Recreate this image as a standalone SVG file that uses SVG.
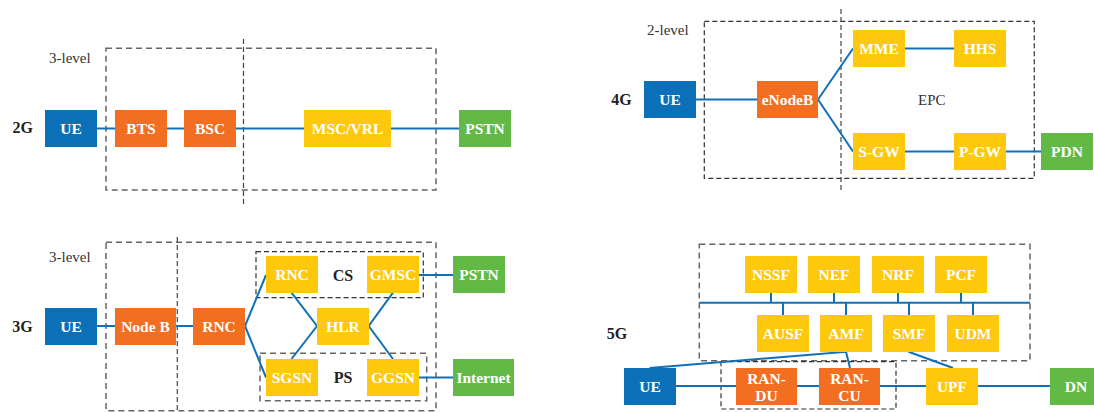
<svg xmlns="http://www.w3.org/2000/svg" width="1094" height="412" viewBox="0 0 1094 412">
  <style>
    .ue { fill: #0B70B8; }
    .ran { fill: #F26F21; }
    .core { fill: #FEC80D; }
    .ext { fill: #62B946; }
    .lbl { font-family: "Liberation Serif", "Times New Roman", serif; font-weight: bold; font-size: 15.5px; fill: #ffffff; text-anchor: middle; }
    .gen { font-family: "Liberation Serif", "Times New Roman", serif; font-weight: bold; font-size: 16px; fill: #222222; text-anchor: middle; }
    .note { font-family: "Liberation Serif", "Times New Roman", serif; font-size: 15px; fill: #333333; }
    .link { stroke: #1170BA; stroke-width: 2; fill: none; }
    .grp { fill: none; stroke: #666666; stroke-width: 1.5; stroke-dasharray: 6 4; }
    .grp-dark { fill: none; stroke: #333333; stroke-width: 1.2; stroke-dasharray: 5 3; }
    .split { stroke: #444444; stroke-width: 1.2; stroke-dasharray: 5 3; }
  </style>

  <!-- ===== Group outlines and split lines ===== -->
  <g id="frames">
    <!-- 2G -->
    <rect class="grp" x="106" y="48.3" width="330" height="141.7"/>
    <line class="split" x1="243.5" y1="39" x2="243.5" y2="205"/>
    <text class="note" x="49" y="63">3-level</text>
    <!-- 4G -->
    <rect class="grp-dark" x="704.3" y="21.3" width="330" height="157"/>
    <line class="split" x1="841" y1="9" x2="841" y2="192"/>
    <text class="note" x="647" y="34.5">2-level</text>
    <text class="note" x="918" y="104.5">EPC</text>
    <!-- 3G -->
    <rect class="grp" x="106" y="242.3" width="330" height="168.4"/>
    <line class="split" x1="177.3" y1="237" x2="177.3" y2="412"/>
    <rect class="grp-dark" x="256" y="251.7" width="167.3" height="46"/>
    <rect class="grp" x="260" y="353.3" width="166.7" height="47.4"/>
    <text class="note" x="49" y="261.5">3-level</text>
    <text class="gen" x="343" y="280.5">CS</text>
    <text class="gen" x="343" y="382.5">PS</text>
    <!-- 5G -->
    <rect class="grp" x="699.3" y="244.3" width="330.7" height="116.4"/>
    <rect class="grp-dark" x="721" y="361.7" width="175" height="47.3"/>
  </g>

  <!-- ===== Generation labels ===== -->
  <g id="generations">
    <text class="gen" x="22.7" y="133">2G</text>
    <text class="gen" x="621.5" y="105">4G</text>
    <text class="gen" x="22.5" y="331.5">3G</text>
    <text class="gen" x="617" y="339">5G</text>
  </g>

  <!-- ===== Connectors ===== -->
  <g id="connectors">
    <!-- 2G chain -->
    <path class="link" d="M97 128.5H115M167 128.5H184M236 128.5H304M391 128.5H459"/>
    <!-- 4G -->
    <path class="link" d="M696 99.5H757M818 99.5L853 48.5M818 99.5L853 151.5M905 48.5H954M905 151.5H954M1006 151.5H1041"/>
    <!-- 3G -->
    <path class="link" d="M97 326H115M176 326H193M245 326L266 275M245 326L266 377.5"/>
    <path class="link" d="M291.5 292.7L317 326L291.5 359M393 292.7L368.7 326L393 359"/>
    <path class="link" d="M418.7 275H453M418.7 377.5H453"/>
    <!-- 5G service bus -->
    <path class="link" d="M699.3 302.7H1030"/>
    <path class="link" d="M771 292.7V302.7M834 292.7V302.7M898 292.7V302.7M961 292.7V302.7"/>
    <path class="link" d="M783 302.7V315M846 302.7V315M909 302.7V315M973 302.7V315"/>
    <!-- 5G user plane and control links -->
    <path class="link" d="M676 386H736M797 386H819M880 386H926M978 386H1050"/>
    <path class="link" d="M649.5 368L846 351.7L850 368"/>
    <path class="link" d="M908.5 351.7L953 368"/>
  </g>

  <!-- ===== 2G nodes ===== -->
  <g id="n2g-ue"><rect class="ue" x="45" y="110" width="52" height="37"/><text class="lbl" x="71" y="134">UE</text></g>
  <g id="n2g-bts"><rect class="ran" x="115" y="110" width="52" height="37"/><text class="lbl" x="141" y="134">BTS</text></g>
  <g id="n2g-bsc"><rect class="ran" x="184" y="110" width="52" height="37"/><text class="lbl" x="210" y="134">BSC</text></g>
  <g id="n2g-msc"><rect class="core" x="304" y="110" width="87" height="37"/><text class="lbl" x="347.5" y="134">MSC/VRL</text></g>
  <g id="n2g-pstn"><rect class="ext" x="459" y="110" width="52" height="37"/><text class="lbl" x="485" y="134">PSTN</text></g>

  <!-- ===== 4G nodes ===== -->
  <g id="n4g-ue"><rect class="ue" x="644" y="81" width="52" height="37"/><text class="lbl" x="670" y="105">UE</text></g>
  <g id="n4g-enb"><rect class="ran" x="757" y="81" width="61" height="37"/><text class="lbl" x="787.5" y="105">eNodeB</text></g>
  <g id="n4g-mme"><rect class="core" x="853" y="30" width="52" height="37"/><text class="lbl" x="879" y="54">MME</text></g>
  <g id="n4g-hhs"><rect class="core" x="954" y="30" width="52" height="37"/><text class="lbl" x="980" y="54">HHS</text></g>
  <g id="n4g-sgw"><rect class="core" x="853" y="133" width="52" height="37"/><text class="lbl" x="879" y="157">S-GW</text></g>
  <g id="n4g-pgw"><rect class="core" x="954" y="133" width="52" height="37"/><text class="lbl" x="980" y="157">P-GW</text></g>
  <g id="n4g-pdn"><rect class="ext" x="1041" y="133" width="52" height="37"/><text class="lbl" x="1067" y="157">PDN</text></g>

  <!-- ===== 3G nodes ===== -->
  <g id="n3g-ue"><rect class="ue" x="45" y="308" width="52" height="37"/><text class="lbl" x="71" y="332">UE</text></g>
  <g id="n3g-nodeb"><rect class="ran" x="115" y="308" width="61" height="37"/><text class="lbl" x="145.5" y="332">Node B</text></g>
  <g id="n3g-rnc"><rect class="ran" x="193" y="308" width="52" height="37"/><text class="lbl" x="219" y="332">RNC</text></g>
  <g id="n3g-rnc-cs"><rect class="core" x="266" y="256" width="52" height="37"/><text class="lbl" x="292" y="280">RNC</text></g>
  <g id="n3g-gmsc"><rect class="core" x="367" y="256" width="52" height="37"/><text class="lbl" x="393" y="280">GMSC</text></g>
  <g id="n3g-hlr"><rect class="core" x="317" y="308" width="52" height="37"/><text class="lbl" x="343" y="332">HLR</text></g>
  <g id="n3g-sgsn"><rect class="core" x="266" y="359" width="52" height="37"/><text class="lbl" x="292" y="383">SGSN</text></g>
  <g id="n3g-ggsn"><rect class="core" x="367" y="359" width="52" height="37"/><text class="lbl" x="393" y="383">GGSN</text></g>
  <g id="n3g-pstn"><rect class="ext" x="453" y="256" width="52" height="37"/><text class="lbl" x="479" y="280">PSTN</text></g>
  <g id="n3g-internet"><rect class="ext" x="453" y="359" width="61" height="37"/><text class="lbl" x="483.5" y="383">Internet</text></g>

  <!-- ===== 5G nodes ===== -->
  <g id="n5g-nssf"><rect class="core" x="745" y="256" width="52" height="37"/><text class="lbl" x="771" y="280">NSSF</text></g>
  <g id="n5g-nef"><rect class="core" x="808" y="256" width="52" height="37"/><text class="lbl" x="834" y="280">NEF</text></g>
  <g id="n5g-nrf"><rect class="core" x="872" y="256" width="52" height="37"/><text class="lbl" x="898" y="280">NRF</text></g>
  <g id="n5g-pcf"><rect class="core" x="935" y="256" width="52" height="37"/><text class="lbl" x="961" y="280">PCF</text></g>
  <g id="n5g-ausf"><rect class="core" x="757" y="315" width="52" height="37"/><text class="lbl" x="783" y="339">AUSF</text></g>
  <g id="n5g-amf"><rect class="core" x="820" y="315" width="52" height="37"/><text class="lbl" x="846" y="339">AMF</text></g>
  <g id="n5g-smf"><rect class="core" x="883" y="315" width="52" height="37"/><text class="lbl" x="909" y="339">SMF</text></g>
  <g id="n5g-udm"><rect class="core" x="947" y="315" width="52" height="37"/><text class="lbl" x="973" y="339">UDM</text></g>
  <g id="n5g-ue"><rect class="ue" x="624" y="368" width="52" height="37"/><text class="lbl" x="650" y="392">UE</text></g>
  <g id="n5g-randu"><rect class="ran" x="736" y="368" width="61" height="37"/><text class="lbl" x="766.5" y="384">RAN-</text><text class="lbl" x="766.5" y="401">DU</text></g>
  <g id="n5g-rancu"><rect class="ran" x="819" y="368" width="61" height="37"/><text class="lbl" x="849.5" y="384">RAN-</text><text class="lbl" x="849.5" y="401">CU</text></g>
  <g id="n5g-upf"><rect class="core" x="926" y="368" width="52" height="37"/><text class="lbl" x="952" y="392">UPF</text></g>
  <g id="n5g-dn"><rect class="ext" x="1050" y="368" width="52" height="37"/><text class="lbl" x="1076" y="392">DN</text></g>
</svg>
